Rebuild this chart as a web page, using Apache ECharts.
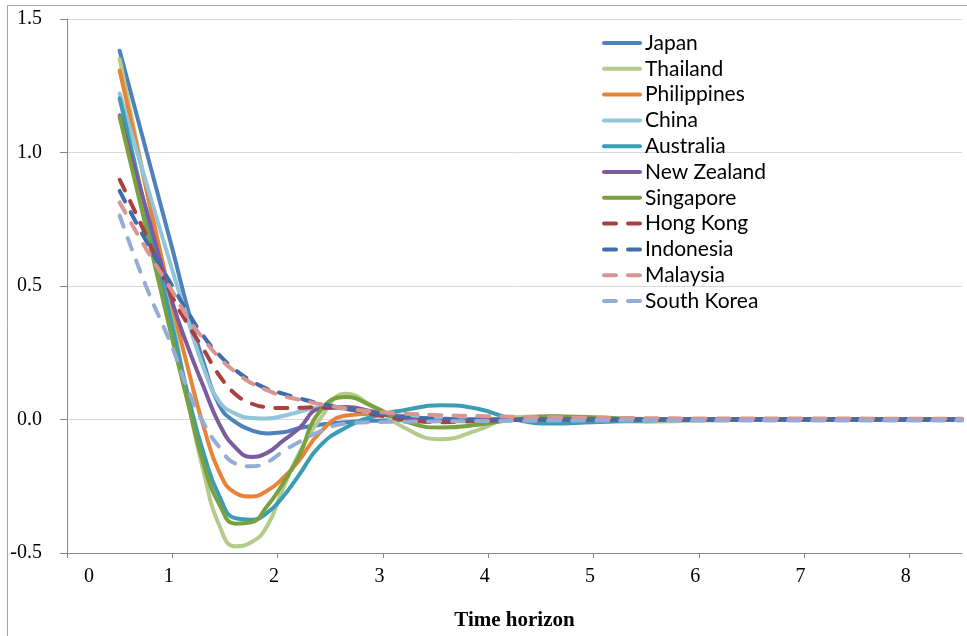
<!DOCTYPE html>
<html>
<head>
<meta charset="utf-8">
<script src="https://cdn.jsdelivr.net/npm/echarts@6/dist/echarts.min.js"></script>
<style>
  html, body { margin: 0; padding: 0; background: #fff; }
  #chart { width: 967px; height: 636px; }
</style>
</head>
<body>
<div id="chart"></div>
<script>
// time horizon (x) shared by every series
var horizon = [0.5, 0.75, 1.0, 1.15, 1.3, 1.45, 1.6, 1.75, 1.9, 2.05, 2.2, 2.4, 2.65,
               2.9, 3.2, 3.55, 3.9, 4.25, 4.6, 5.0, 5.5, 6.0, 7.0, 8.0, 8.5];

var japan       = [1.381, 1.01, 0.64, 0.41, 0.21, 0.05, -0.01, -0.04, -0.052, -0.048, -0.033, -0.02, -0.01,
                   -0.005, -0.002, 0, 0, 0, 0, 0, 0, 0, 0, 0, 0];
var thailand    = [1.35, 0.87, 0.38, 0.07, -0.2, -0.40, -0.475, -0.46, -0.40, -0.26, -0.13, 0.0, 0.096,
                   0.05, -0.03, -0.074, -0.04, 0.008, 0.012, -0.003, -0.008, -0.004, 0, 0, 0];
var philippines = [1.307, 0.87, 0.43, 0.19, -0.03, -0.2, -0.275, -0.288, -0.267, -0.22, -0.155, -0.05, 0.015,
                   0.022, 0.012, 0.0, -0.003, 0, 0, 0, 0, 0, 0, 0, 0];
var china       = [1.221, 0.89, 0.56, 0.37, 0.19, 0.065, 0.022, 0.006, 0.004, 0.013, 0.028, 0.045, 0.04,
                   0.025, 0.01, 0.003, 0, 0, 0, 0, 0, 0, 0, 0, 0];
var australia   = [1.203, 0.78, 0.35, 0.09, -0.13, -0.29, -0.37, -0.375, -0.35, -0.29, -0.21, -0.1, -0.03,
                   0.01, 0.035, 0.053, 0.04, 0.0, -0.015, -0.01, -0.004, 0, 0, 0, 0];
var newZealand  = [1.139, 0.79, 0.44, 0.27, 0.12, -0.02, -0.105, -0.14, -0.125, -0.08, -0.035, 0.04, 0.047,
                   0.03, 0.005, -0.005, -0.003, 0, 0, 0, 0, 0, 0, 0, 0];
var singapore   = [1.133, 0.72, 0.30, 0.06, -0.17, -0.32, -0.39, -0.385, -0.325, -0.24, -0.14, 0.03, 0.084,
                   0.05, -0.005, -0.03, -0.02, 0.0, 0.012, 0.008, 0.002, 0, 0, 0, 0];
var hongKong    = [0.898, 0.69, 0.46, 0.355, 0.26, 0.163, 0.095, 0.06, 0.046, 0.043, 0.044, 0.046, 0.04,
                   0.02, 0.0, -0.01, -0.006, -0.002, 0, 0, 0, 0, 0, 0, 0];
var indonesia   = [0.856, 0.67, 0.5, 0.4, 0.31, 0.24, 0.185, 0.145, 0.115, 0.097, 0.08, 0.06, 0.04,
                   0.025, 0.01, 0.003, 0, 0, 0, 0, 0, 0, 0, 0, 0];
var malaysia    = [0.813, 0.64, 0.48, 0.38, 0.30, 0.23, 0.178, 0.137, 0.11, 0.088, 0.075, 0.058, 0.042,
                   0.03, 0.022, 0.016, 0.013, 0.01, 0.008, 0.006, 0.005, 0.004, 0.004, 0.003, 0.003];
var southKorea  = [0.764, 0.5, 0.27, 0.11, -0.015, -0.105, -0.165, -0.175, -0.16, -0.12, -0.085, -0.045, -0.015,
                   -0.01, -0.008, -0.007, -0.006, -0.005, -0.004, -0.004, -0.004, -0.004, -0.004, -0.004, -0.004];

var names  = ['Japan', 'Thailand', 'Philippines', 'China', 'Australia', 'New Zealand', 'Singapore', 'Hong Kong', 'Indonesia', 'Malaysia', 'South Korea'];
var values = [japan, thailand, philippines, china, australia, newZealand, singapore, hongKong, indonesia, malaysia, southKorea];
var colors = ['#4F81BD', '#B3CB8B', '#E7843A', '#92C5D7', '#3A9DB3', '#7B5C9E', '#79A13F', '#A9403E', '#3E6CAD', '#D89593', '#93ADD6'];
var dashed = [false, false, false, false, false, false, false, true, true, true, true];

var xTicks = [0, 1, 2, 3, 4, 5, 6, 7, 8];

var SERIF = "'Liberation Serif', 'Times New Roman', serif";

var chartDom = document.getElementById('chart');
var myChart = echarts.init(chartDom);

var series = [];
for (var i = 0; i < names.length; i++) {
    var pts = [];
    for (var j = 0; j < horizon.length; j++) {
        pts.push([horizon[j], values[i][j]]);
    }
    series.push({
        name: names[i],
        type: 'line',
        smooth: true,
        symbol: 'none',
        showSymbol: false,
        color: colors[i],
        lineStyle: {
            width: 4,
            color: colors[i],
            type: dashed[i] ? [12, 12] : 'solid',
            cap: 'round'
        },
        data: pts
    });
}

var option = {
    animation: false,
    backgroundColor: '#fff',
    graphic: [{
        type: 'rect',
        shape: { x: 7.5, y: 5.5, width: 1000, height: 1000 },
        style: { fill: 'none', stroke: '#A6A6A6', lineWidth: 1 },
        silent: true
    }],
    grid: {
        left: 67,
        right: 5,
        top: 19,
        bottom: 75
    },
    legend: {
        orient: 'vertical',
        left: 597,
        top: 27.5,
        itemWidth: 36,
        itemHeight: 14,
        itemGap: 4.8,
        itemStyle: { opacity: 0, borderWidth: 0 },
        lineStyle: { width: 4, cap: 'round' },
        textStyle: {
            fontFamily: "Lato, 'Noto Sans', sans-serif",
            fontSize: 21,
            lineHeight: 21,
            color: '#000'
        },
        data: names
    },
    xAxis: {
        type: 'value',
        min: 0,
        max: 8.5,
        interval: 1,
        name: 'Time horizon',
        nameLocation: 'middle',
        nameGap: 57,
        nameTextStyle: {
            fontFamily: SERIF,
            fontSize: 21,
            fontWeight: 'bold',
            color: '#000'
        },
        axisLine: { onZero: false, lineStyle: { color: '#868686', width: 1 } },
        axisTick: { length: 5, lineStyle: { color: '#868686' }, customValues: xTicks },
        splitLine: { show: false },
        axisLabel: {
            margin: 14,
            customValues: xTicks,
            fontFamily: SERIF,
            fontSize: 20,
            color: '#000',
            formatter: function (v) {
                return v === 0 ? '{z|0}' : '{n|' + v + '}';
            },
            rich: {
                z: { fontFamily: SERIF, fontSize: 20, color: '#000', padding: [0, 0, 0, 44] },
                n: { fontFamily: SERIF, fontSize: 20, color: '#000', padding: [0, 7, 0, 0] }
            }
        }
    },
    yAxis: {
        type: 'value',
        min: -0.5,
        max: 1.5,
        interval: 0.5,
        axisLine: { show: true, lineStyle: { color: '#868686', width: 1 } },
        axisTick: { show: true, length: 7, lineStyle: { color: '#868686' } },
        splitLine: { show: true, lineStyle: { color: '#D9D9D9', width: 1 } },
        axisLabel: {
            margin: 25,
            fontFamily: SERIF,
            fontSize: 20,
            color: '#000',
            formatter: function (v) { return v.toFixed(1); }
        }
    },
    series: series
};

option && myChart.setOption(option);
</script>
</body>
</html>
